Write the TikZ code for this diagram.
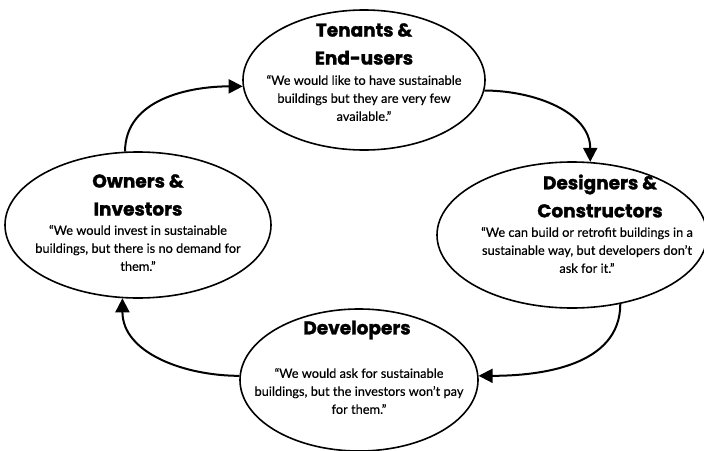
\documentclass[tikz,border=0pt]{standalone}
\usepackage{fontspec}
\setmainfont{Lato}[UprightFeatures={FakeBold=0.4}]
\newfontfamily\headfont{Poppins}[BoldFeatures={FakeBold=1.5}]
\usetikzlibrary{shapes.geometric,arrows.meta}
\begin{document}
\begin{tikzpicture}[x=1pt,y=-1pt,
        actor/.style={draw,ellipse,line width=1.6pt,inner sep=0pt},
        heading/.style={align=center,font=\headfont\bfseries\fontsize{18.5}{28}\selectfont},
        quote/.style={align=center,font=\fontsize{12.8}{18}\selectfont},
        flow/.style={line width=2pt,-{Triangle[length=14pt,width=14pt]}}]
    \useasboundingbox (0,0) rectangle (704,450);
    %% Actors
    \node[actor,minimum width=242pt,minimum height=140pt] (tenants) at (364,80) {};
    \node[actor,minimum width=266pt,minimum height=146pt] (owners) at (138,225) {};
    \node[actor,minimum width=270pt,minimum height=146pt] (designers) at (572,235) {};
    \node[actor,minimum width=238pt,minimum height=142pt] (developers) at (359,380) {};
    %% Texts
    \node[heading] (tenantsHead) at (364,44) {Tenants \&\\End-users};
    \node[quote] (tenantsQuote) at (364,98) {“We would like to have sustainable\\buildings but they are very few\\available.”};
    \node[heading] (ownersHead) at (138,195) {Owners \&\\Investors};
    \node[quote] (ownersQuote) at (138,248) {“We would invest in sustainable\\buildings, but there is no demand for\\them.”};
    \node[heading] (designersHead) at (600,196) {Designers \&\\Constructors};
    \node[quote] (designersQuote) at (587,250) {“We can build or retrofit buildings in a\\sustainable way, but developers don’t\\ask for it.”};
    \node[heading] (developersHead) at (357,330) {Developers};
    \node[quote] (developersQuote) at (359,391) {“We would ask for sustainable\\buildings, but the investors won’t pay\\for them.”};
    %% Cycle
    \draw[flow] (owners.100) to[out=90,in=180] (tenants.183);
    \draw[flow] (tenants.355) to[out=0,in=90] (designers.76);
    \draw[flow] (designers.305) to[out=-90,in=0] (developers.2);
    \draw[flow] (developers.178) to[out=180,in=-90] (owners.258);
\end{tikzpicture}
\end{document}
